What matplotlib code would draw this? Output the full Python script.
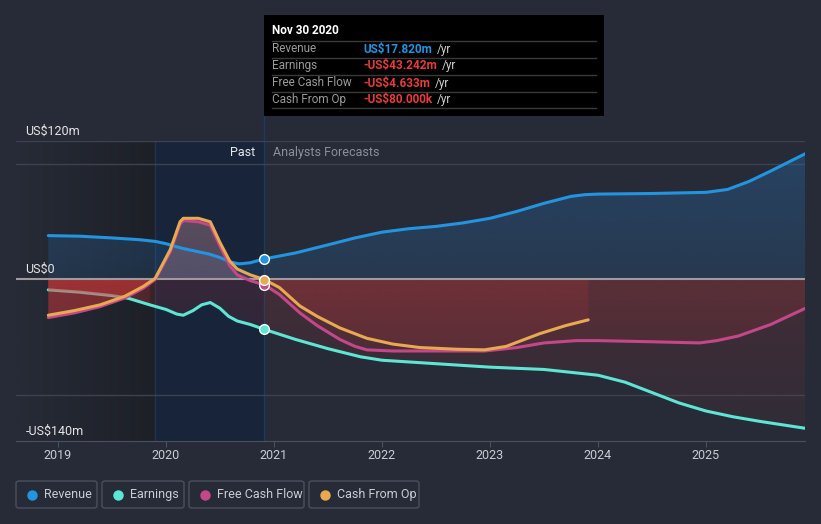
import numpy as np
import matplotlib.pyplot as plt
from matplotlib.patches import Rectangle, FancyBboxPatch, PathPatch
from matplotlib.path import Path
from matplotlib.colors import to_rgba

plt.rcParams['font.family'] = ['Roboto', 'DejaVu Sans']

# ------------------------------
# Data (US$ m)
# ------------------------------
rev_x = [2018.91, 2019.2, 2019.5, 2019.75, 2019.9, 2020.0, 2020.15, 2020.4, 2020.5, 2020.6,
         2020.68, 2020.78, 2020.91, 2021.2, 2021.5, 2021.75, 2022.0, 2022.25, 2022.5, 2022.75,
         2023.0, 2023.25, 2023.5, 2023.75, 2023.88, 2024.0, 2024.5, 2025.0, 2025.2, 2025.4,
         2025.6, 2025.92]
rev_y = [38, 37.5, 36, 34.5, 33, 31, 27, 22, 19, 15,
         13.5, 14.5, 17.82, 23, 30, 36, 41, 44, 46, 49,
         53, 59, 66, 72, 73.5, 74, 74.5, 75.5, 78, 85,
         94, 109]

earn_x = [2018.91, 2019.2, 2019.5, 2019.64, 2019.85, 2020.0, 2020.1, 2020.16, 2020.25, 2020.33,
          2020.41, 2020.5, 2020.58, 2020.66, 2020.78, 2020.91, 2021.2, 2021.5, 2021.8, 2022.0,
          2022.5, 2023.0, 2023.5, 2023.8, 2024.0, 2024.25, 2024.5, 2024.75, 2025.0, 2025.25,
          2025.5, 2025.92]
earn_y = [-9, -11, -14, -16, -22, -26, -30, -31, -27, -22,
          -20, -25, -32, -36, -39, -43.242, -52, -60, -67, -70,
          -73, -76, -78, -81, -83, -89, -98, -107, -114, -119,
          -123, -129]

fcf_x = [2018.91, 2019.15, 2019.39, 2019.62, 2019.79, 2019.9, 2020.04, 2020.13, 2020.16, 2020.3,
         2020.41, 2020.5, 2020.59, 2020.66, 2020.78, 2020.91, 2021.05, 2021.24, 2021.4, 2021.61,
         2021.75, 2021.86, 2022.1, 2022.5, 2022.95, 2023.25, 2023.5, 2023.8, 2024.0, 2024.5,
         2024.94, 2025.1, 2025.3, 2025.6, 2025.92]
fcf_y = [-33, -29, -23.5, -16, -7.5, 0, 24, 48, 51, 50,
         47, 29, 12, 4, -1, -4.633, -13, -29, -40, -52,
         -58, -61, -62, -62, -62, -59, -55, -53, -53, -54,
         -55, -53, -49, -39, -25]

cfo_x = [2018.91, 2019.15, 2019.39, 2019.62, 2019.79, 2019.9, 2020.04, 2020.13, 2020.16, 2020.3,
         2020.41, 2020.5, 2020.59, 2020.66, 2020.78, 2020.91, 2021.05, 2021.24, 2021.4, 2021.61,
         2021.86, 2022.1, 2022.35, 2022.7, 2022.95, 2023.15, 2023.46, 2023.7, 2023.91]
cfo_y = [-31, -27, -22, -14.5, -6, 1, 26, 50, 53, 53,
         50, 32, 16, 9, 4, -0.08, -7, -23, -32, -42,
         -51, -56, -59, -60.5, -61, -58, -47, -40, -35]

now_x = 2020.91
past_end = 2019.9
years = [2019, 2020, 2021, 2022, 2023, 2024, 2025]

# ------------------------------
# Colours
# ------------------------------
bg = '#262b37'
c_rev = '#2394df'
c_earn = '#5ee6d5'
c_fcf = '#c4478a'
c_cfo = '#e8a951'
c_red = '#e63c3c'

W, H = 821, 524
fig = plt.figure(figsize=(W / 100, H / 100), dpi=100, facecolor=bg)
ax = fig.add_axes([16 / W, 1 - 441 / H, (805 - 16) / W, 300 / H])
ax.set_facecolor(bg)
x0, x1 = 2018.611, 2025.917
ymin, ymax = -140, 120


def grad_fill(x, y, positive, color, a_zero, a_far, xmax=None, z=1.5):
    x = np.asarray(x, float)
    y = np.asarray(y, float)
    where = y >= 0 if positive else y <= 0
    if xmax is not None:
        where = where & (x <= xmax)
    coll = ax.fill_between(x, y, 0, where=where, interpolate=True,
                           facecolor='none', edgecolor='none')
    paths = coll.get_paths()
    if not paths:
        return
    patch = PathPatch(Path.make_compound_path(*paths), facecolor='none',
                      edgecolor='none', transform=ax.transData)
    ax.add_patch(patch)
    n = 200
    rgba = np.zeros((n, 1, 4))
    rgba[:, 0, :3] = to_rgba(color)[:3]
    if positive:
        rgba[:, 0, 3] = np.linspace(a_far, a_zero, n)
        ext = [x0, x1, 0, ymax]
    else:
        rgba[:, 0, 3] = np.linspace(a_zero, a_far, n)
        ext = [x0, x1, ymin, 0]
    im = ax.imshow(rgba, extent=ext, aspect='auto', origin='upper',
                   interpolation='bilinear', zorder=z)
    im.set_clip_path(patch)


# past background
grad = np.zeros((1, 100, 4))
grad[0, :, :3] = np.linspace(to_rgba('#262b37')[:3], to_rgba('#1d2027')[:3], 100)
grad[0, :, 3] = 1
ax.imshow(grad, extent=[x0, past_end, ymin, ymax], aspect='auto', zorder=0.1)
ax.axvspan(past_end, now_x, color='#172439', zorder=0.2, lw=0)
ax.axvline(past_end, color='#1f3552', lw=1, zorder=0.3)
ax.plot([now_x, now_x], [ymin, 143], color='#1f3a5c', lw=1, zorder=0.3, clip_on=False)

# gridlines
for g in [120, 100, -100]:
    ax.axhline(g, color='#3c4250', lw=1, zorder=0.5)

# fills
grad_fill(rev_x, rev_y, True, '#2a6aa8', 0.22, 0.4)
grad_fill(fcf_x, fcf_y, True, '#a07888', 0.3, 0.4)
grad_fill(cfo_x, cfo_y, True, '#a07888', 0.18, 0.25)
for sx, sy in [(earn_x, earn_y), (fcf_x, fcf_y), (cfo_x, cfo_y)]:
    grad_fill(sx, sy, False, c_red, 0.15, 0.05)
    grad_fill(sx, sy, False, c_red, 0.16, 0.06, xmax=past_end)

ax.axhline(0, color='#a09a9e', lw=1.5, zorder=2)

# lines
kw = dict(lw=2.2, solid_capstyle='round', solid_joinstyle='round')
ex = np.array(earn_x)
k = int(np.searchsorted(ex, 2019.64)) + 1
ax.plot(earn_x[:k], earn_y[:k], color=c_earn, zorder=1.4, **kw)
ax.plot(earn_x[k - 1:], earn_y[k - 1:], color=c_earn, zorder=3, **kw)
ax.plot(rev_x, rev_y, color=c_rev, zorder=3, **kw)
ax.plot(fcf_x, fcf_y, color=c_fcf, zorder=3, **kw)
ax.plot(cfo_x, cfo_y, color=c_cfo, zorder=3, **kw)

for yv, c in [(rev_y[rev_x.index(now_x)], c_rev), (earn_y[earn_x.index(now_x)], c_earn),
              (fcf_y[fcf_x.index(now_x)], c_fcf), (cfo_y[cfo_x.index(now_x)], c_cfo)]:
    ax.plot(now_x, yv, 'o', ms=7, color=c, mec='white', mew=1, zorder=4)

ax.set_xlim(x0, x1)
ax.set_ylim(ymin, ymax)
ax.set_xticks(years)
ax.set_xticklabels([str(y) for y in years], color='#c8ccd4', fontsize=9)
ax.tick_params(axis='x', length=4, color='#4a505c', pad=2)
ax.set_yticks([])
for s in ['top', 'left', 'right']:
    ax.spines[s].set_visible(False)
ax.spines['bottom'].set_color('#4a505c')

# axis labels inside plot
ax.text(2018.70, 123, 'US$120m', color='#e6e6e6', fontsize=9, va='bottom')
ax.text(2018.70, 3, 'US$0', color='#e6e6e6', fontsize=9, va='bottom')
ax.text(2018.70, -137, '-US$140m', color='#e6e6e6', fontsize=9, va='bottom')
ax.text(now_x - 0.08, 110, 'Past', color='#e8e8e8', fontsize=9, ha='right', va='center')
ax.text(now_x + 0.08, 110, 'Analysts Forecasts', color='#8a8f99', fontsize=9, ha='left', va='center')

# ------------------------------
# Tooltip
# ------------------------------
def fx(px):
    return px / W


def fy(py):
    return 1 - py / H


fig.add_artist(Rectangle((fx(264), fy(116)), 340 / W, 101 / H, transform=fig.transFigure,
                         facecolor='black', edgecolor='none', zorder=5))
fig.text(fx(272), fy(30), 'Nov 30 2020', color='white', fontsize=8.5, fontweight='bold',
         va='center', zorder=6)
rows = ['Revenue', 'Earnings', 'Free Cash Flow', 'Cash From Op']
vals = ['US$17.820m', '-US$43.242m', '-US$4.633m', '-US$80.000k']
vcols = [c_rev, c_red, c_red, c_red]
for i in range(5):
    yy = fy(40.5 + 17 * i)
    fig.add_artist(plt.Line2D([fx(272), fx(596)], [yy, yy], transform=fig.transFigure,
                              color='#3a3a3a', lw=1, zorder=6))
fig.canvas.draw()
rend = fig.canvas.get_renderer()
for i, (r, v, c) in enumerate(zip(rows, vals, vcols)):
    yy = fy(49 + 17 * i)
    fig.text(fx(272), yy, r, color='#9a9a9a', fontsize=8.5, va='center', zorder=6)
    t = fig.text(fx(363), yy, v, color=c, fontsize=8.5, fontweight='bold', va='center', zorder=6)
    bb = t.get_window_extent(rend)
    fig.text(fx(bb.x1 + 5), yy, '/yr', color='#cfcfcf', fontsize=8.5, va='center', zorder=6)

# ------------------------------
# Legend
# ------------------------------
legend = [('Revenue', c_rev, 16, 97), ('Earnings', c_earn, 102, 184),
          ('Free Cash Flow', c_fcf, 189, 304), ('Cash From Op', c_cfo, 309, 419)]
for name, c, l, r in legend:
    fig.add_artist(FancyBboxPatch((fx(l), fy(508)), (r - l) / W, 27 / H,
                                  boxstyle='round,pad=0,rounding_size=0.004',
                                  transform=fig.transFigure, facecolor='none',
                                  edgecolor='#4a505c', lw=1))
    fig.add_artist(plt.Line2D([fx(l + 16)], [fy(494.5)], marker='o', ms=6.5, color=c,
                              transform=fig.transFigure))
    fig.text(fx(l + 28), fy(494.5), name, color='#c8ccd4', fontsize=9, va='center')

plt.savefig('out.png', dpi=100, facecolor=bg)
